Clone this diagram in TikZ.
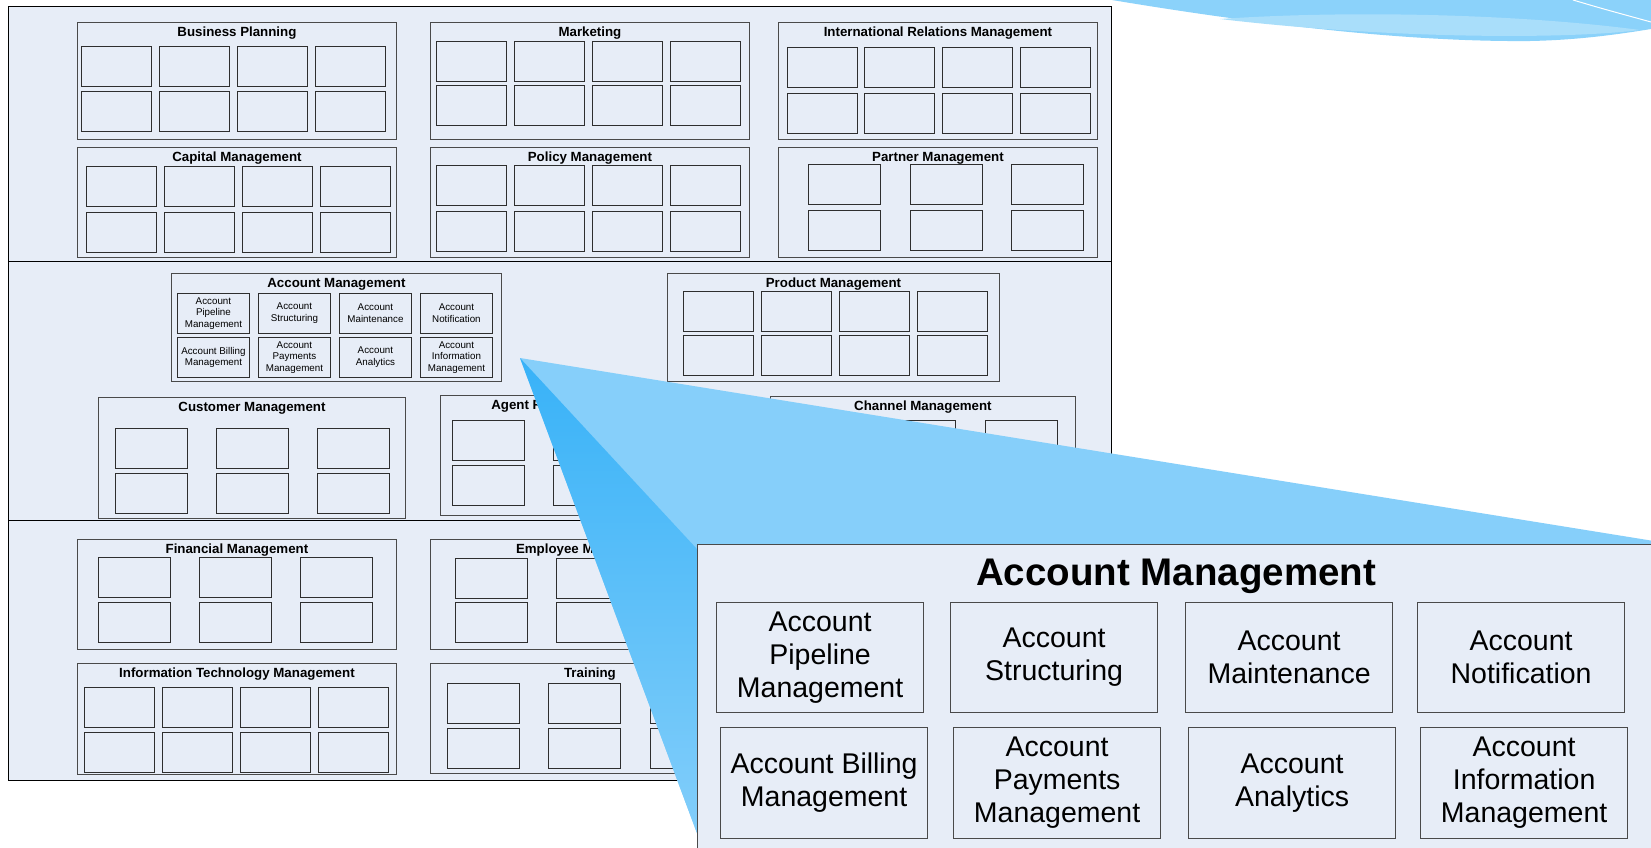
\documentclass[tikz,border=0pt]{standalone}
\usepackage{fontspec}
\setmainfont{Liberation Sans}
\usetikzlibrary{positioning,calc}
\definecolor{paleblue}{HTML}{E7EDF7}
\definecolor{boxgray}{HTML}{4A4A4A}
\definecolor{cellgray}{HTML}{2E2E2E}
\definecolor{skyblue}{HTML}{86CFFA}
\definecolor{deepsky}{HTML}{38B2F8}
\definecolor{swooshdark}{HTML}{8BD2FA}
\definecolor{swooshlight}{HTML}{A9DEFA}

% group box with its bold caption: name, x, y, width, height, caption
\newcommand{\capgroup}[6]{%
  \node[grp, minimum width=#4pt, minimum height=#5pt] (#1) at (#2,#3) {};
  \node[grptitle] (#1-title) at ($(#1.north)+(0,14)$) {#6};}
% empty capability cells: name, x list, y list, cell width
\newcommand{\cellgrid}[4]{%
  \foreach \cx [count=\ci] in {#2} {
    \foreach \cy [count=\ri] in {#3} {
      \node[cell, minimum width=#4pt] (#1-\ri-\ci) at (\cx,\cy) {};
    }
  }}

\begin{document}
\begin{tikzpicture}[
    x=1pt, y=-1pt,
    band/.style={draw=black, line width=0.8pt, fill=paleblue, anchor=north west, inner sep=0pt},
    grp/.style={draw=boxgray, line width=0.9pt, fill=paleblue, anchor=north west, inner sep=0pt},
    grptitle/.style={anchor=base, font=\bfseries\fontsize{13.3}{15}\selectfont},
    cell/.style={draw=cellgray, line width=0.9pt, fill=paleblue, anchor=north west,
                 minimum height=40pt, inner sep=0pt},
    acctcell/.style={cell, minimum width=72pt, align=center,
                     font=\fontsize{9.8}{11.7}\selectfont},
    zoombox/.style={draw=boxgray, line width=1.3pt, fill=paleblue, anchor=north west, inner sep=0pt},
    zoomtitle/.style={anchor=base, font=\bfseries\fontsize{38.5}{44}\selectfont},
    zoomcell/.style={draw=boxgray, line width=1.2pt, fill=paleblue, anchor=north west,
                     minimum width=207pt, minimum height=110pt, inner sep=0pt, align=center,
                     font=\fontsize{28.5}{33}\selectfont}
]
    \useasboundingbox (0,0) rectangle (1651,847);
    \fill[white] (0,0) rectangle (1651,847);
    \clip (0,0) rectangle (1651,847);

    % layers
    \node[band, minimum width=1103pt, minimum height=255pt] (strategy) at (8,6) {};
    \node[band, minimum width=1103pt, minimum height=259pt] (frontline) at (8,261) {};
    \node[band, minimum width=1103pt, minimum height=260pt] (support) at (8,520) {};

    % top layer
    \capgroup{bizplan}{77}{22}{319}{117}{Business Planning}
    \cellgrid{bizplan}{81,159,237,315}{46,91}{70}
    \capgroup{marketing}{430}{22}{319}{117}{Marketing}
    \cellgrid{marketing}{436,514,592,670}{41,85}{70}
    \capgroup{intrel}{778}{22}{319}{117}{International Relations Management}
    \cellgrid{intrel}{787,864,942,1020}{47,93}{70}
    \capgroup{capital}{77}{147}{319}{110}{Capital Management}
    \cellgrid{capital}{86,164,242,320}{166,212}{70}
    \capgroup{policy}{430}{147}{319}{110}{Policy Management}
    \cellgrid{policy}{436,514,592,670}{165,211}{70}
    \capgroup{partner}{778}{147}{319}{110}{Partner Management}
    \cellgrid{partner}{808,910,1011}{164,210}{72}

    % middle layer
    \capgroup{acctmgmt}{171}{273}{330}{108}{Account Management}
    \node[acctcell] (acct-1) at (177,293) {Account\\Pipeline\\Management};
    \node[acctcell] (acct-2) at (258,293) {Account\\Structuring};
    \node[acctcell] (acct-3) at (339,293) {Account\\Maintenance};
    \node[acctcell] (acct-4) at (420,293) {Account\\Notification};
    \node[acctcell] (acct-5) at (177,337) {Account Billing\\Management};
    \node[acctcell] (acct-6) at (258,337) {Account\\Payments\\Management};
    \node[acctcell] (acct-7) at (339,337) {Account\\Analytics};
    \node[acctcell] (acct-8) at (420,337) {Account\\Information\\Management};
    \capgroup{product}{667}{273}{332}{108}{Product Management}
    \cellgrid{product}{683,761,839,917}{291,335}{70}
    \capgroup{customer}{98}{397}{307}{121}{Customer Management}
    \cellgrid{customer}{115,216,317}{428,473}{72}
    \capgroup{agent}{440}{395}{308}{120}{Agent Relationship Management}
    \cellgrid{agent}{452,553,654}{420,465}{72}
    \capgroup{channel}{770}{396}{305}{119}{Channel Management}
    \cellgrid{channel}{781,883,985}{420,465}{72}

    % bottom layer
    \capgroup{finance}{77}{539}{319}{110}{Financial Management}
    \cellgrid{finance}{98,199,300}{557,602}{72}
    \capgroup{employee}{430}{539}{319}{110}{Employee Management}
    \cellgrid{employee}{455,556,657}{558,602}{72}
    \capgroup{infotech}{77}{663}{319}{111}{Information Technology Management}
    \cellgrid{infotech}{84,162,240,318}{687,732}{70}
    \capgroup{training}{430}{663}{319}{110}{Training}
    \cellgrid{training}{447,548,650}{683,728}{72}

    % swoosh top right
    \fill[swooshdark] (1112,0) .. controls (1280,28) and (1420,42) .. (1530,41)
        .. controls (1580,40) and (1620,34) .. (1651,29) -- (1651,0) -- cycle;
    \fill[swooshlight] (1220,19) .. controls (1350,10) and (1520,14) .. (1640,30)
        .. controls (1560,40) and (1380,38) .. cycle;
    \draw[white, line width=1pt] (1573,0) .. controls (1600,8) .. (1651,22);

    % zoom wedge
    \coordinate (apex) at (520,358);
    \fill[skyblue] (apex) -- (1660,542) -- (1660,860) -- (707,860) -- cycle;
    \shade[top color=deepsky, bottom color=skyblue] (apex) -- (707,860) -- (985,860) -- cycle;

    % enlarged account management
    \node[zoombox, minimum width=1000pt, minimum height=330pt] (zoom) at (697,544) {};
    \node[zoomtitle] (zoom-title) at (1176,585) {Account Management};
    \node[zoomcell] (zoom-1) at (716,602) {Account\\Pipeline\\Management};
    \node[zoomcell] (zoom-2) at (950,602) {Account\\Structuring};
    \node[zoomcell] (zoom-3) at (1185,602) {Account\\Maintenance};
    \node[zoomcell] (zoom-4) at (1417,602) {Account\\Notification};
    \node[zoomcell, minimum height=111pt] (zoom-5) at (720,727) {Account Billing\\Management};
    \node[zoomcell, minimum height=111pt] (zoom-6) at (953,727) {Account\\Payments\\Management};
    \node[zoomcell, minimum height=111pt] (zoom-7) at (1188,727) {Account\\Analytics};
    \node[zoomcell, minimum height=111pt] (zoom-8) at (1420,727) {Account\\Information\\Management};
\end{tikzpicture}
\end{document}
